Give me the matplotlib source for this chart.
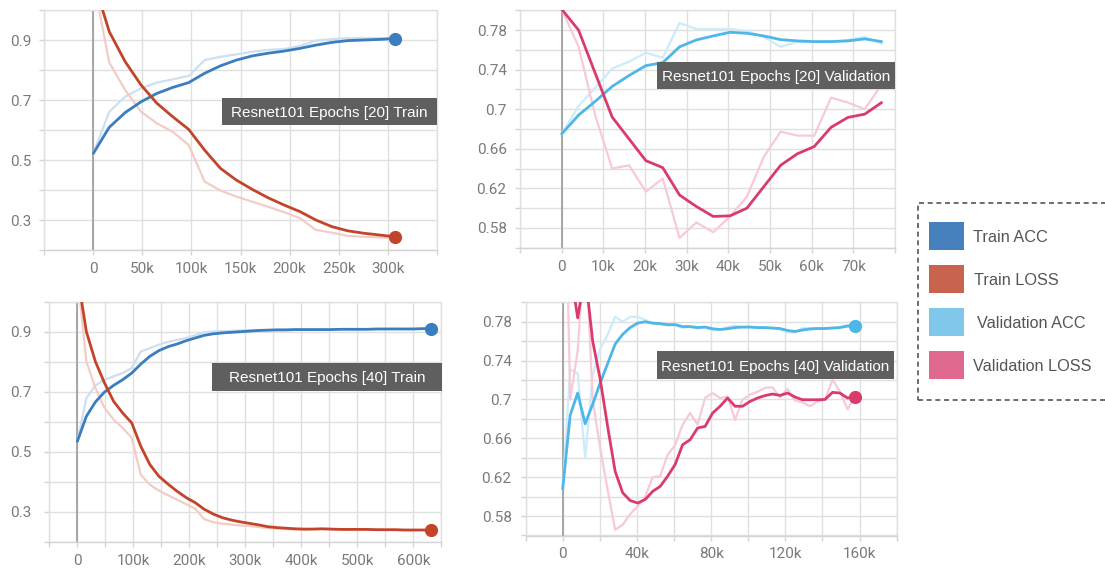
import numpy as np
import matplotlib
matplotlib.use("Agg")
import matplotlib.pyplot as plt
from matplotlib.patches import Rectangle

plt.rcParams['font.family'] = ['Roboto', 'DejaVu Sans']
LABEL_FONT = ['Liberation Sans', 'DejaVu Sans']

# ---------------- data (steps in thousands) ----------------
train20_steps_k = [0, 16.2, 32.4, 48.6, 64.8, 81.0, 97.2, 113.4, 129.6, 145.8,
                   162.0, 178.2, 194.4, 210.6, 226.8, 243.0, 259.2, 275.4, 291.6, 307.8]
train20_acc_raw = [0.522, 0.661, 0.711, 0.739, 0.758, 0.769, 0.780, 0.833, 0.844, 0.852,
                   0.861, 0.867, 0.870, 0.880, 0.898, 0.903, 0.906, 0.906, 0.906, 0.905]
train20_acc_smooth = [0.522, 0.609, 0.658, 0.694, 0.722, 0.742, 0.758, 0.789, 0.814, 0.833,
                      0.847, 0.856, 0.863, 0.872, 0.883, 0.892, 0.898, 0.900, 0.902, 0.905]
train20_loss_raw = [1.100, 0.825, 0.733, 0.661, 0.622, 0.594, 0.550, 0.428, 0.398, 0.378,
                    0.361, 0.344, 0.326, 0.306, 0.267, 0.258, 0.247, 0.244, 0.242, 0.239]
train20_loss_smooth = [1.100, 0.928, 0.828, 0.750, 0.689, 0.644, 0.602, 0.533, 0.472, 0.433,
                       0.402, 0.374, 0.350, 0.328, 0.300, 0.278, 0.264, 0.256, 0.250, 0.244]

val20_steps_k = [0, 4.04, 8.08, 12.12, 16.16, 20.2, 24.24, 28.28, 32.32, 36.36,
                 40.4, 44.44, 48.48, 52.52, 56.56, 60.6, 64.64, 68.68, 72.72, 76.76]
val20_acc_raw = [0.675, 0.703, 0.722, 0.741, 0.748, 0.757, 0.752, 0.787, 0.781, 0.781,
                 0.781, 0.779, 0.773, 0.763, 0.768, 0.768, 0.768, 0.770, 0.773, 0.766]
val20_acc_smooth = [0.675, 0.694, 0.708, 0.723, 0.734, 0.744, 0.747, 0.763, 0.770, 0.774,
                    0.7777, 0.7767, 0.774, 0.7703, 0.769, 0.7683, 0.7683, 0.769, 0.771, 0.7683]
val20_loss_raw = [0.801, 0.7633, 0.6933, 0.640, 0.6433, 0.6167, 0.630, 0.570, 0.5857, 0.5757,
                  0.5917, 0.6117, 0.6517, 0.6773, 0.6733, 0.6733, 0.7117, 0.7067, 0.700, 0.725]
val20_loss_smooth = [0.801, 0.780, 0.736, 0.692, 0.670, 0.648, 0.641, 0.6133, 0.6017, 0.5917,
                     0.5923, 0.600, 0.6217, 0.6433, 0.655, 0.6623, 0.6817, 0.6917, 0.695, 0.7067]

train40_steps_k = [0, 16.2, 32.4, 48.6, 64.8, 81.0, 97.2, 113.4, 129.6, 145.8,
                   162.0, 178.2, 194.4, 210.6, 226.8, 243.0, 259.2, 275.4, 291.6, 307.8,
                   324.0, 340.2, 356.4, 372.6, 388.8, 405.0, 421.2, 437.4, 453.6, 469.8,
                   486.0, 502.2, 518.4, 534.6, 550.8, 567.0, 583.2, 599.4, 615.6, 631.8]
train40_acc_raw = [0.534, 0.679, 0.721, 0.740, 0.751, 0.762, 0.779, 0.834, 0.845, 0.857,
                   0.866, 0.873, 0.879, 0.888, 0.898, 0.901, 0.902, 0.903, 0.904, 0.905,
                   0.906, 0.906, 0.907, 0.907, 0.908, 0.907, 0.908, 0.907, 0.908, 0.908,
                   0.909, 0.908, 0.909, 0.909, 0.909, 0.910, 0.909, 0.910, 0.910, 0.911]
train40_acc_smooth = [0.534, 0.618, 0.666, 0.699, 0.721, 0.740, 0.762, 0.792, 0.818, 0.837,
                      0.850, 0.859, 0.870, 0.879, 0.888, 0.893, 0.896, 0.898, 0.900, 0.902,
                      0.904, 0.905, 0.906, 0.906, 0.907, 0.907, 0.907, 0.907, 0.907, 0.908,
                      0.908, 0.908, 0.908, 0.909, 0.909, 0.909, 0.909, 0.909, 0.910, 0.910]
train40_loss_raw = [1.093, 0.800, 0.712, 0.646, 0.607, 0.579, 0.546, 0.423, 0.390, 0.370,
                    0.355, 0.340, 0.325, 0.310, 0.275, 0.265, 0.260, 0.257, 0.254, 0.252,
                    0.249, 0.245, 0.244, 0.242, 0.241, 0.240, 0.243, 0.242, 0.241, 0.241,
                    0.240, 0.241, 0.240, 0.240, 0.239, 0.240, 0.239, 0.238, 0.239, 0.238]
train40_loss_smooth = [1.093, 0.900, 0.800, 0.729, 0.668, 0.629, 0.596, 0.518, 0.457, 0.418,
                       0.392, 0.368, 0.347, 0.330, 0.308, 0.292, 0.280, 0.272, 0.266, 0.261,
                       0.256, 0.250, 0.247, 0.245, 0.243, 0.242, 0.242, 0.243, 0.242, 0.241,
                       0.241, 0.241, 0.241, 0.240, 0.240, 0.240, 0.239, 0.239, 0.239, 0.239]

val40_steps_k = [0, 4.04, 8.08, 12.12, 16.16, 20.2, 24.24, 28.28, 32.32, 36.36,
                 40.4, 44.44, 48.48, 52.52, 56.56, 60.6, 64.64, 68.68, 72.72, 76.76,
                 80.8, 84.84, 88.88, 92.92, 96.96, 101.0, 105.04, 109.08, 113.12, 117.16,
                 121.2, 125.24, 129.28, 133.32, 137.36, 141.4, 145.44, 149.48, 153.52, 157.56]
val40_acc_raw = [0.608, 0.731, 0.727, 0.640, 0.725, 0.752, 0.767, 0.785, 0.780, 0.785,
                 0.785, 0.782, 0.778, 0.7775, 0.776, 0.777, 0.7735, 0.775, 0.773, 0.7745,
                 0.771, 0.7715, 0.7745, 0.776, 0.7745, 0.7745, 0.7735, 0.774, 0.773, 0.772,
                 0.769, 0.769, 0.7735, 0.7735, 0.773, 0.773, 0.774, 0.7745, 0.777, 0.776]
val40_acc_smooth = [0.608, 0.684, 0.7066, 0.675, 0.695, 0.717, 0.737, 0.757, 0.767, 0.774,
                    0.7786, 0.780, 0.7786, 0.778, 0.777, 0.777, 0.775, 0.775, 0.774, 0.7745,
                    0.7728, 0.772, 0.7728, 0.774, 0.7745, 0.7745, 0.774, 0.774, 0.7735, 0.773,
                    0.771, 0.770, 0.7715, 0.7725, 0.773, 0.773, 0.7735, 0.774, 0.7755, 0.7759]
val40_loss_raw = [1.060, 0.700, 0.750, 0.870, 0.700, 0.650, 0.607, 0.566, 0.571, 0.582,
                  0.590, 0.600, 0.620, 0.621, 0.643, 0.653, 0.674, 0.686, 0.674, 0.7015,
                  0.7066, 0.7015, 0.703, 0.679, 0.700, 0.705, 0.708, 0.712, 0.7125, 0.702,
                  0.711, 0.699, 0.697, 0.693, 0.698, 0.700, 0.7203, 0.708, 0.690, 0.7028]
val40_loss_smooth = [1.060, 0.835, 0.784, 0.830, 0.760, 0.721, 0.672, 0.626, 0.604, 0.596,
                     0.5934, 0.597, 0.6054, 0.6105, 0.621, 0.633, 0.6534, 0.6586, 0.6706, 0.6723,
                     0.686, 0.693, 0.7015, 0.693, 0.693, 0.698, 0.7015, 0.704, 0.7056, 0.7042,
                     0.7066, 0.7025, 0.6997, 0.6997, 0.6997, 0.700, 0.7073, 0.7066, 0.7015, 0.7028]

panel_titles = ["Resnet101 Epochs [20] Train", "Resnet101 Epochs [20] Validation",
                "Resnet101 Epochs [40] Train", "Resnet101 Epochs [40] Validation"]
legend_labels = ["Train ACC", "Train LOSS", "Validation ACC", "Validation LOSS"]
legend_colors = ["#4681bd", "#c8644e", "#7fc8ec", "#e06a8e"]

# line colours: (smoothed, raw)
C_TRAIN_ACC = ("#3a7ebf", "#cde0f1")
C_TRAIN_LOSS = ("#c2452b", "#f3cdc5")
C_VAL_ACC = ("#4fb6e8", "#cdebf9")
C_VAL_LOSS = ("#d93b6c", "#f6cad6")

# ---------------- figure ----------------
W, H = 1105, 571
fig = plt.figure(figsize=(W / 100, H / 100), dpi=100)
fig.patch.set_facecolor("white")


def axes_px(l, t, r, b):
    return fig.add_axes([l / W, 1 - b / H, (r - l) / W, (b - t) / H])


def fmt_step(v):
    return "0" if abs(v) < 1e-9 else f"{int(round(v / 1000))}k"


def fmt_val(v):
    return f"{v:.2f}".rstrip("0")


def style(ax, xlim, xstep, xlab_vals, ylim, ystep, ylab_vals, ypad):
    ax.set_xlim(xlim)
    ax.set_ylim(ylim)
    xt = np.arange(xlim[0], xlim[1] + xstep / 2, xstep)
    yt = np.arange(ylim[0], ylim[1] + ystep / 2, ystep)
    ax.set_xticks(xt)
    ax.set_xticklabels([fmt_step(v) if any(abs(v - q) < 1 for q in xlab_vals) else "" for v in xt])
    ax.set_yticks(yt)
    ax.set_yticklabels([fmt_val(v) if any(abs(v - q) < 1e-6 for q in ylab_vals) else "" for v in yt])
    ax.grid(True, color="#e0e0e0", lw=1.0, zorder=0)
    ax.set_axisbelow(True)
    for s in ax.spines.values():
        s.set_color("#e0e0e0")
        s.set_linewidth(1.0)
    ax.spines["bottom"].set_color("#d4d4d4")
    ax.tick_params(direction="out", length=3.6, width=1.0, color="#d4d4d4",
                   labelcolor="#7a7a7a", labelsize=11)
    ax.tick_params(axis="x", pad=5)
    ax.tick_params(axis="y", pad=ypad)
    ax.axvline(0, color="#a0a0a0", lw=1.3, zorder=1.5)


def curve(ax, steps_k, raw, smooth, colors, dot=True):
    x = np.asarray(steps_k) * 1000
    ax.plot(x, raw, color=colors[1], lw=1.6, zorder=2, solid_joinstyle="round")
    ax.plot(x, smooth, color=colors[0], lw=2.0, zorder=3, solid_joinstyle="round",
            solid_capstyle="round")
    if dot:
        ax.plot(x[-1], smooth[-1], "o", ms=8.5, color=colors[0], zorder=4, clip_on=False)


def label_box(l, t, r, b, text):
    fig.add_artist(Rectangle((l / W, 1 - b / H), (r - l) / W, (b - t) / H,
                             transform=fig.transFigure, facecolor="#5f5f5f",
                             edgecolor="none", zorder=5))
    fig.text((l + r) / 2 / W, 1 - (t + b) / 2 / H, text, color="white",
             fontsize=11.0, family=LABEL_FONT, ha="center", va="center_baseline", zorder=6)


# top-left: 20 epochs train
ax1 = axes_px(44.3, 10, 436.7, 250)
style(ax1, (-50000, 350000), 50000, [0, 50000, 100000, 150000, 200000, 250000, 300000],
      (0.2, 1.0), 0.1, [0.3, 0.5, 0.7, 0.9], 5.5)
curve(ax1, train20_steps_k, train20_acc_raw, train20_acc_smooth, C_TRAIN_ACC)
curve(ax1, train20_steps_k, train20_loss_raw, train20_loss_smooth, C_TRAIN_LOSS)

# top-right: 20 epochs validation
ax2 = axes_px(520, 10.2, 895.1, 247.8)
style(ax2, (-10000, 80000), 10000, [0, 10000, 20000, 30000, 40000, 50000, 60000, 70000],
      (0.56, 0.80), 0.02, [0.58, 0.62, 0.66, 0.70, 0.74, 0.78], 6)
curve(ax2, val20_steps_k, val20_acc_raw, val20_acc_smooth, C_VAL_ACC, dot=False)
curve(ax2, val20_steps_k, val20_loss_raw, val20_loss_smooth, C_VAL_LOSS, dot=False)

# bottom-left: 40 epochs train
ax3 = axes_px(49.3, 301.7, 441.3, 541.7)
style(ax3, (-50000, 650000), 50000, [0, 100000, 200000, 300000, 400000, 500000, 600000],
      (0.2, 1.0), 0.1, [0.3, 0.5, 0.7, 0.9], 9)
curve(ax3, train40_steps_k, train40_acc_raw, train40_acc_smooth, C_TRAIN_ACC)
curve(ax3, train40_steps_k, train40_loss_raw, train40_loss_smooth, C_TRAIN_LOSS)

# bottom-right: 40 epochs validation
ax4 = axes_px(525.6, 302.3, 896.6, 535.5)
style(ax4, (-20000, 180000), 20000, [0, 40000, 80000, 120000, 160000],
      (0.56, 0.80), 0.02, [0.58, 0.62, 0.66, 0.70, 0.74, 0.78], 6.4)
curve(ax4, val40_steps_k, val40_acc_raw, val40_acc_smooth, C_VAL_ACC)
curve(ax4, val40_steps_k, val40_loss_raw, val40_loss_smooth, C_VAL_LOSS)

# run labels
label_box(221.7, 97.7, 436.7, 125, panel_titles[0])
label_box(657.3, 62.3, 895, 89.3, panel_titles[1])
label_box(212, 362.7, 441.7, 390.7, panel_titles[2])
label_box(656.7, 351, 894, 379, panel_titles[3])

# legend
fig.add_artist(Rectangle((918 / W, 1 - 400 / H), 200 / W, 197 / H,
                         transform=fig.transFigure, fill=False, edgecolor="#555555",
                         lw=1.2, linestyle=(0, (3, 2.2)), zorder=5))
sq_tops = [222, 265, 308, 351]
txt_x = [973, 974, 977, 973]
for top, lab, col, tx in zip(sq_tops, legend_labels, legend_colors, txt_x):
    fig.add_artist(Rectangle((929 / W, 1 - (top + 28) / H), 35 / W, 28 / H,
                             transform=fig.transFigure, facecolor=col,
                             edgecolor="none", zorder=5))
    fig.text(tx / W, 1 - (top + 14) / H, lab, color="#555555", fontsize=11.7,
             family=LABEL_FONT, ha="left", va="center_baseline", zorder=6)

fig.savefig("out.png", dpi=100)
